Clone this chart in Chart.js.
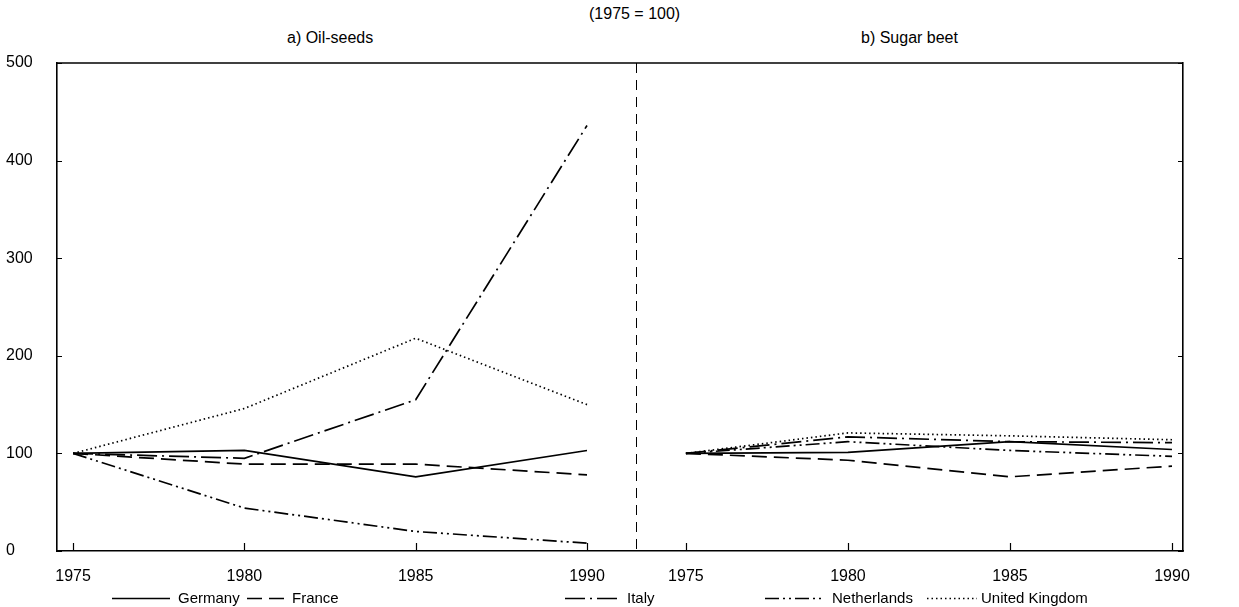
<!DOCTYPE html>
<html>
<head>
<meta charset="utf-8">
<script src="https://cdn.jsdelivr.net/npm/chart.js@4.4.1/dist/chart.umd.min.js"></script>
<style>
body { margin: 0; background: #fff; font-family: "Liberation Sans", Arial, sans-serif; color: #000; }
#wrap { position: relative; width: 1239px; height: 607px; overflow: hidden; }
.txt { position: absolute; font-size: 16px; white-space: pre; line-height: 18px; }
#left { position: absolute; left: 0; top: 45px; width: 636px; height: 545px; }
#right { position: absolute; left: 636px; top: 45px; width: 603px; height: 545px; }
#legend { position: absolute; left: 0; top: 588px; width: 1239px; height: 19px; }
#legend .item { position: absolute; top: 0; height: 19px; }
#legend svg { position: absolute; top: 0; left: 0; }
#legend span { position: absolute; top: 0; font-size: 15px; line-height: 19px; white-space: nowrap; }
</style>
</head>
<body>
<div id="wrap">
  <div class="txt" style="left:589px;top:5px;">(1975 = 100)</div>
  <div class="txt" style="left:287px;top:29px;">a) Oil-seeds</div>
  <div class="txt" style="left:861px;top:29px;">b) Sugar beet</div>
  <div id="left"><canvas id="oil"></canvas></div>
  <div id="right"><canvas id="beet"></canvas></div>
  <div id="legend"></div>
</div>
<script>
// data, index 1975 = 100
const years = [1975, 1980, 1985, 1990];
const yTicks = [0, 100, 200, 300, 400, 500];
const countries = ['Germany', 'France', 'Italy', 'Netherlands', 'United Kingdom'];

const oilGermany = [100, 103, 76, 103];
const oilFrance = [100, 89, 89, 78];
const oilItaly = [100, 95, 155, 436];
const oilNetherlands = [100, 44, 20, 8];
const oilUK = [100, 146, 218, 150];

const beetGermany = [100, 101, 112, 104];
const beetFrance = [100, 93, 76, 87];
const beetItaly = [100, 117, 112, 111];
const beetNetherlands = [100, 112, 103, 97];
const beetUK = [100, 121, 118, 114];

// line styles per country
const dashes = {
    'Germany': [],
    'France': [15, 7],
    'Italy': [20, 5, 2, 5],
    'Netherlands': [14, 4, 2, 4, 2, 4],
    'United Kingdom': [1.5, 3]
};

Chart.defaults.font.family = '"Liberation Sans", Arial, sans-serif';
Chart.defaults.font.size = 16;
Chart.defaults.color = '#000';

function makeDatasets(series) {
    return countries.map((name, i) => ({
        label: name,
        data: years.map((yr, j) => ({ x: yr, y: series[i][j] })),
        borderColor: '#000',
        borderWidth: 1.7,
        borderDash: dashes[name],
        pointRadius: 0,
        fill: false,
        tension: 0
    }));
}

// top border, inward tick marks and the dashed divider
const framePlugin = {
    id: 'frame',
    afterDraw(chart, args, opts) {
        const { ctx, chartArea: a, scales } = chart;
        ctx.save();
        ctx.strokeStyle = '#000';
        ctx.lineWidth = 1.6;
        ctx.beginPath();
        ctx.moveTo(a.left, a.top);
        ctx.lineTo(a.right, a.top);
        ctx.stroke();

        ctx.lineWidth = 1.2;
        ctx.beginPath();
        years.forEach(v => {
            const px = Math.round(scales.x.getPixelForValue(v)) + 0.5;
            ctx.moveTo(px, a.bottom);
            ctx.lineTo(px, a.bottom - 8);
        });
        yTicks.forEach(v => {
            const py = Math.round(scales.y.getPixelForValue(v)) + 0.5;
            if (opts.side === 'left') {
                ctx.moveTo(a.left, py);
                ctx.lineTo(a.left + 5, py);
            } else {
                ctx.moveTo(a.right, py);
                ctx.lineTo(a.right - 5, py);
            }
        });
        ctx.stroke();

        if (opts.divider) {
            ctx.lineWidth = 1;
            ctx.setLineDash([10, 7]);
            ctx.beginPath();
            ctx.moveTo(a.left + 0.5, a.top);
            ctx.lineTo(a.left + 0.5, a.bottom);
            ctx.stroke();
        }
        ctx.restore();
    }
};

function noPad(s) {
    s.paddingTop = 0;
    s.paddingBottom = 0;
    s.paddingLeft = 0;
    s.paddingRight = 0;
}

function xScale(min, max) {
    return {
        type: 'linear',
        min: min,
        max: max,
        afterBuildTicks: s => { s.ticks = years.map(v => ({ value: v })); },
        afterFit: s => { s.height = 39; noPad(s); },
        grid: { display: false },
        border: { display: true, color: '#000', width: 1.6 },
        ticks: { padding: 8, maxRotation: 0, callback: v => String(v) }
    };
}

new Chart(document.getElementById('oil'), {
    type: 'line',
    data: { datasets: makeDatasets([oilGermany, oilFrance, oilItaly, oilNetherlands, oilUK]) },
    options: {
        responsive: true,
        maintainAspectRatio: false,
        animation: false,
        layout: { padding: { top: 18, right: 0, left: 6, bottom: 0 } },
        plugins: { legend: { display: false }, tooltip: { enabled: false }, frame: { side: 'left' } },
        scales: {
            x: xScale(1974.53, 1991.43),
            y: {
                min: 0,
                max: 500,
                afterBuildTicks: s => { s.ticks = yTicks.map(v => ({ value: v })); },
                afterFit: s => { s.width = 51; noPad(s); },
                grid: { display: false },
                border: { display: true, color: '#000', width: 1.6 },
                ticks: { crossAlign: 'far', padding: 10 }
            }
        }
    },
    plugins: [framePlugin]
});

new Chart(document.getElementById('beet'), {
    type: 'line',
    data: { datasets: makeDatasets([beetGermany, beetFrance, beetItaly, beetNetherlands, beetUK]) },
    options: {
        responsive: true,
        maintainAspectRatio: false,
        animation: false,
        layout: { padding: { top: 18, right: 0, left: 0, bottom: 0 } },
        plugins: { legend: { display: false }, tooltip: { enabled: false }, frame: { side: 'right', divider: true } },
        scales: {
            x: xScale(1973.46, 1990.34),
            y: {
                position: 'right',
                min: 0,
                max: 500,
                afterBuildTicks: s => { s.ticks = yTicks.map(v => ({ value: v })); },
                afterFit: s => { s.width = 56; noPad(s); },
                grid: { display: false },
                border: { display: true, color: '#000', width: 1.6 },
                ticks: { display: false }
            }
        }
    },
    plugins: [framePlugin]
});

// legend: line sample followed by the country name
const legendPos = [[112, 58, 178], [247, 37, 292], [565, 53, 627], [765, 57, 832], [927, 50, 981]];
const legend = document.getElementById('legend');
countries.forEach((name, i) => {
    const [x, w, tx] = legendPos[i];
    const item = document.createElement('div');
    item.className = 'item';
    item.style.left = x + 'px';
    const d = dashes[name].join(' ');
    item.innerHTML = '<svg width="' + w + '" height="19"><line x1="0" y1="10.5" x2="' + w + '" y2="10.5" stroke="#000" stroke-width="1.6"' +
        (d ? ' stroke-dasharray="' + d + '"' : '') + '/></svg><span style="left:' + (tx - x) + 'px">' + name + '</span>';
    legend.appendChild(item);
});
</script>
</body>
</html>
